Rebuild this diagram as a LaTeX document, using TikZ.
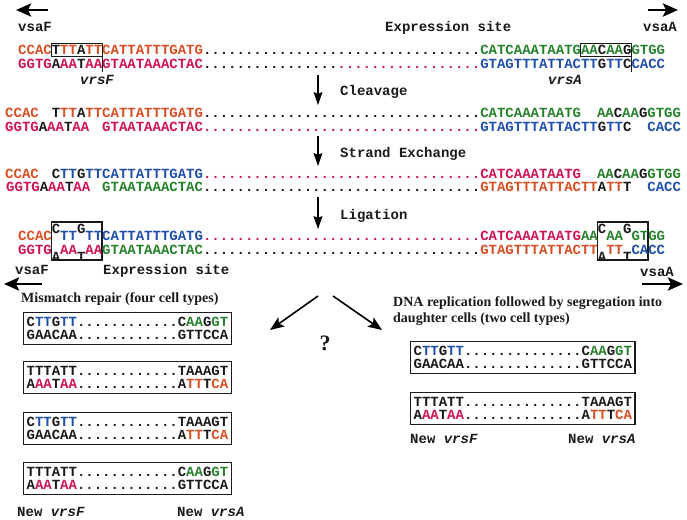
\documentclass[tikz,border=0pt]{standalone}
\usepackage{fontspec}
\setmainfont{Liberation Serif}
\setmonofont{Liberation Mono}
\usetikzlibrary{arrows.meta}
\definecolor{seqO}{RGB}{218,78,36}
\definecolor{seqR}{RGB}{208,20,82}
\definecolor{seqG}{RGB}{38,130,44}
\definecolor{seqB}{RGB}{32,80,172}
\definecolor{seqK}{RGB}{26,26,26}
\begin{document}
\begin{tikzpicture}[x=1pt,y=-1pt,
		seq/.style={inner sep=0pt,anchor=base west,font=\ttfamily\bfseries\fontsize{14}{13}\selectfont},
		lab/.style={seq,text=seqK},
		ital/.style={lab,font=\ttfamily\bfseries\itshape\fontsize{14}{13}\selectfont},
		tag/.style={inner sep=0pt,anchor=base west,text=seqK,font=\bfseries\fontsize{14}{16}\selectfont},
		mbox/.style={seq,anchor=north west,draw=seqK,line width=1.2pt,align=left,inner xsep=3pt,inner ysep=4.5pt},
		ligbox/.style={draw=seqK,line width=1.1pt},
		cut/.style={draw=seqK,line width=0.9pt},
		bigarrow/.style={line width=2.8pt,-{Stealth[length=15pt,width=13pt,inset=3pt]}},
		steparrow/.style={line width=1.1pt,-{Stealth[length=13pt,width=9pt,inset=2pt]}},
		splitarrow/.style={line width=1.6pt,-{Stealth[length=14pt,width=11pt,inset=3pt]}}]
				\def\nO#1{\textcolor{seqO}{#1}}
				\def\nR#1{\textcolor{seqR}{#1}}
				\def\nG#1{\textcolor{seqG}{#1}}
				\def\nB#1{\textcolor{seqB}{#1}}
				\def\nK#1{\textcolor{seqK}{#1}}
				\def\up#1{\raisebox{7pt}{\nK{#1}}}
				\def\dn#1{\raisebox{-7pt}{\nK{#1}}}
				\def\dotrow{.................................}
				\useasboundingbox (0,0) rectangle (687,519);
				% expression site before the switch
				\coordinate (vfA) at (48,10); \coordinate (vfB) at (16,10);
				\coordinate (vaA) at (648,10); \coordinate (vaB) at (678,10);
				\draw[bigarrow] (vfA) -- (vfB);
				\draw[bigarrow] (vaA) -- (vaB);
				\node[lab] (vsaFt) at (18,32) {vsaF};
				\node[lab] (exst) at (385,32) {Expression site};
				\node[lab,anchor=base east] (vsaAt) at (677,32) {vsaA};
				\node[seq] (r1t) at (18,54.6) {\nO{CCAC}\nK{T}\nO{TT}\nK{A}\nO{TTCATTATTTGATG}\nK{\dotrow}\nG{CATCAAATAATGAA}\nK{C}\nG{AA}\nK{G}\nG{GTGG}};
				\node[seq] (r1b) at (18,68.1) {\nR{GGTG}\nK{A}\nR{AA}\nK{T}\nR{AAGTAATAAACTAC}\nK{................}\nR{.................}\nB{GTAGTTTATTACTT}\nK{G}\nB{TT}\nK{C}\nB{CACC}};
				\draw[cut] (102,43) -- (51.6,43) -- (51.6,56.8) -- (102,56.8) (102,43) -- (102,72);
				\draw[cut] (631.2,43) -- (580.8,43) -- (580.8,56.8) -- (631.2,56.8) (631.2,43) -- (631.2,72);
				\node[ital] (vrsFt) at (80,84) {vrsF};
				\node[ital] (vrsAt) at (548,84) {vrsA};
				% cleavage
				\coordinate (a1s) at (318,75); \coordinate (a1e) at (318,105);
				\draw[steparrow] (a1s) -- (a1e);
				\node[lab] (clv) at (340,95.5) {Cleavage};
				\node[seq] (r2ta) at (5,117.6) {\nO{CCAC}};
				\node[seq] (r2tb) at (51.6,117.6) {\nK{T}\nO{TT}\nK{A}\nO{TTCATTATTTGATG}\nK{\dotrow}\nG{CATCAAATAATG}};
				\node[seq] (r2tc) at (596.8,117.6) {\nG{AA}\nK{C}\nG{AA}\nK{G}\nG{GTGG}};
				\node[seq] (r2ba) at (5,131.1) {\nR{GGTG}\nK{A}\nR{AA}\nK{T}\nR{AA}};
				\node[seq] (r2bb) at (102,131.1) {\nR{GTAATAAACTAC}\nR{\dotrow}\nB{GTAGTTTATTACTT}\nK{G}\nB{TT}\nK{C}};
				\node[seq] (r2bc) at (647.2,131.1) {\nB{CACC}};
				% strand exchange
				\coordinate (a2s) at (318,136); \coordinate (a2e) at (318,166);
				\draw[steparrow] (a2s) -- (a2e);
				\node[lab] (sex) at (340,157) {Strand Exchange};
				\node[seq] (r3ta) at (5,178.1) {\nO{CCAC}};
				\node[seq] (r3tb) at (51.6,178.1) {\nK{C}\nB{TT}\nK{G}\nB{TTCATTATTTGATG}\nR{\dotrow}\nR{CATCAAATAATG}};
				\node[seq] (r3tc) at (596.8,178.1) {\nG{AA}\nK{C}\nG{AA}\nK{G}\nG{GTGG}};
				\node[seq] (r3ba) at (6,191.6) {\nR{GGTG}\nK{A}\nR{AA}\nK{T}\nR{AA}};
				\node[seq] (r3bb) at (102,191.6) {\nG{GTAATAAACTAC}\nK{\dotrow}\nO{GTAGTTTATTACTT}\nK{A}\nO{TT}\nK{T}};
				\node[seq] (r3bc) at (647.2,191.6) {\nB{CACC}};
				% ligation
				\coordinate (a3s) at (318,197); \coordinate (a3e) at (318,229);
				\draw[steparrow] (a3s) -- (a3e);
				\node[lab] (lig) at (340,219.5) {Ligation};
				\draw[ligbox] (51.6,222) rectangle (102,260);
				\draw[ligbox] (597.6,222) rectangle (648,260);
				\node[seq] (r4t) at (18,240.6) {\nO{CCAC}\up{C}\nB{TT}\up{G}\nB{TTCATTATTTGATG}\nR{\dotrow}\nR{CATCAAATAATG}\nG{AA}\up{C}\nG{AA}\up{G}\nG{GTGG}};
				\node[seq] (r4b) at (18,254.1) {\nR{GGTG}\dn{A}\nR{AA}\dn{T}\nR{AA}\nG{GTAATAAACTAC}\nK{\dotrow}\nO{GTAGTTTATTACTT}\dn{A}\nO{TT}\dn{T}\nB{CACC}};
				\node[lab] (vsaFb) at (15,274.5) {vsaF};
				\node[lab] (exsb) at (103,274.5) {Expression site};
				\node[lab,anchor=base east] (vsaAb) at (674,276) {vsaA};
				\coordinate (bfA) at (42,284); \coordinate (bfB) at (4,284);
				\coordinate (baA) at (642,284); \coordinate (baB) at (683,284);
				\draw[bigarrow] (bfA) -- (bfB);
				\draw[bigarrow] (baA) -- (baB);
				% two outcomes
				\coordinate (spL) at (318,296); \coordinate (spLe) at (270,330);
				\coordinate (spR) at (333,296); \coordinate (spRe) at (382,330);
				\draw[splitarrow] (spL) -- (spLe);
				\draw[splitarrow] (spR) -- (spRe);
				\node[font=\bfseries\fontsize{22}{22}\selectfont,text=seqK] (qm) at (325,343) {?};
				\node[tag] (mmr) at (21,302) {Mismatch repair (four cell types)};
				\node[tag,anchor=north west,align=left] (dnr) at (393,296.5) {DNA replication followed by segregation into\\daughter cells (two cell types)};
				\node[mbox] (mr1) at (23,312) {\nK{C}\nB{TT}\nK{G}\nB{TT}\nK{............C}\nG{AA}\nK{G}\nG{GT}\\ \nK{GAACAA............GTTCCA}};
				\node[mbox] (mr2) at (23,361) {\nK{TTTATT............TAAAGT}\\ \nK{A}\nR{AA}\nK{T}\nR{AA}\nK{............A}\nO{TT}\nK{T}\nO{CA}};
				\node[mbox] (mr3) at (23,412) {\nK{C}\nB{TT}\nK{G}\nB{TT}\nK{............TAAAGT}\\ \nK{GAACAA............A}\nO{TT}\nK{T}\nO{CA}};
				\node[mbox] (mr4) at (23,462) {\nK{TTTATT............C}\nG{AA}\nK{G}\nG{GT}\\ \nK{A}\nR{AA}\nK{T}\nR{AA}\nK{............GTTCCA}};
				\node[lab] (nvf1) at (17,516) {New \textit{vrsF}};
				\node[lab] (nva1) at (177,516) {New \textit{vrsA}};
				\node[mbox] (dr1) at (410,341) {\nK{C}\nB{TT}\nK{G}\nB{TT}\nK{..............C}\nG{AA}\nK{G}\nG{GT}\\ \nK{GAACAA..............GTTCCA}};
				\node[mbox] (dr2) at (410,392) {\nK{TTTATT..............TAAAGT}\\ \nK{A}\nR{AA}\nK{T}\nR{AA}\nK{..............A}\nO{TT}\nK{T}\nO{CA}};
				\node[lab] (nvf2) at (410,443.5) {New \textit{vrsF}};
				\node[lab] (nva2) at (568,443.5) {New \textit{vrsA}};
		\end{tikzpicture}
\end{document}
